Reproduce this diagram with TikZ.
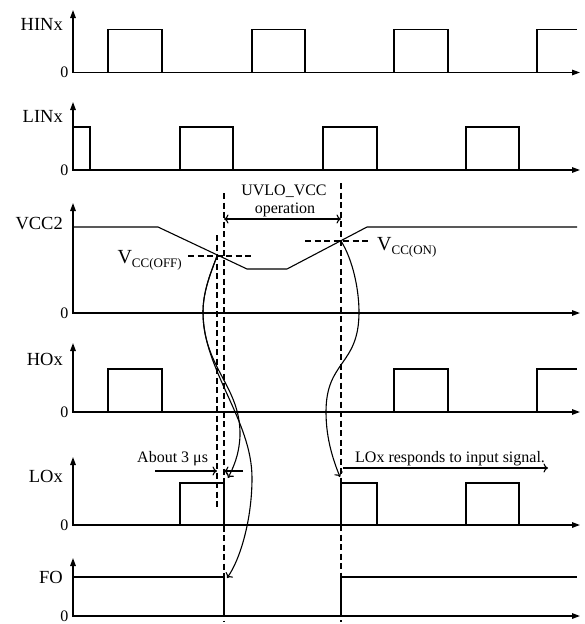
\documentclass[tikz,border=0pt]{standalone}
\usepackage{fontspec}
\setmainfont{Liberation Serif}
\usetikzlibrary{arrows.meta}
\begin{document}
\begin{tikzpicture}[x=1pt,y=-1pt,
  axis/.style={line width=1.4pt,{Triangle[length=8pt,width=5.5pt]}-{Triangle[length=8pt,width=5.5pt]}},
  wave/.style={line width=1.1pt},
  guide/.style={line width=1.1pt,dash pattern=on 6pt off 3.5pt},
  conn/.style={line width=1.1pt,-{To[length=4.5pt,width=9pt]}},
  span/.style={line width=1.1pt,{To[length=4.5pt,width=9pt]}-{To[length=4.5pt,width=9pt]}},
  sig/.style={font=\fontsize{18.5}{20}\selectfont,anchor=base east,inner sep=0pt},
  zero/.style={font=\fontsize{16}{18}\selectfont,anchor=east,inner sep=0pt},
  note/.style={font=\fontsize{16}{18}\selectfont,inner sep=0pt}]
\useasboundingbox (0,0) rectangle (584,624);

% ---------- HINx ----------
\draw[axis] (73,10) -- (73,72.5) -- (580,72.5);
\node[sig] (hin) at (63,30) {HINx};
\node[zero] (z1) at (68.5,72.5) {0};
\draw[wave] (108,72.5) |- (162,29.5) -- (162,72.5);
\draw[wave] (252,72.5) |- (305,29.5) -- (305,72.5);
\draw[wave] (394,72.5) |- (448,29.5) -- (448,72.5);
\draw[wave] (537,72.5) |- (577,29.5);

% ---------- LINx ----------
\draw[axis] (73,102) -- (73,170) -- (580,170);
\node[sig] (lin) at (63,122) {LINx};
\node[zero] (z2) at (68.5,170) {0};
\draw[wave] (73,127) -- (90,127) -- (90,170);
\draw[wave] (180,170) |- (233,127) -- (233,170);
\draw[wave] (323,170) |- (377,127) -- (377,170);
\draw[wave] (466,170) |- (519,127) -- (519,170);

% ---------- VCC2 ----------
\draw[axis] (73,203) -- (73,313) -- (580,313);
\node[sig] (vcc) at (63,229) {VCC2};
\node[zero] (z3) at (68.5,313) {0};
\draw[wave] (73,227) -- (158,227) -- (247,269) -- (287,269) -- (367,227) -- (577,227);

% ---------- HOx ----------
\draw[axis] (73,343) -- (73,412) -- (580,412);
\node[sig] (ho) at (63,365) {HOx};
\node[zero] (z4) at (68.5,412) {0};
\draw[wave] (108,412) |- (162,369) -- (162,412);
\draw[wave] (394,412) |- (448,369) -- (448,412);
\draw[wave] (537,412) |- (577,369);

% ---------- LOx ----------
\draw[axis] (73,457) -- (73,525) -- (580,525);
\node[sig] (lo) at (63,482) {LOx};
\node[zero] (z5) at (68.5,525) {0};
\draw[wave] (180,525) |- (224,483) -- (224,525);
\draw[wave] (341,525) |- (377,483) -- (377,525);
\draw[wave] (466,525) |- (519,483) -- (519,525);

% ---------- FO ----------
\draw[axis] (73,558) -- (73,616) -- (580,616);
\node[sig] (fo) at (63,583) {FO};
\node[zero] (z6) at (68.5,616) {0};
\draw[wave] (73,577) -- (224,577) -- (224,616);
\draw[wave] (341,616) -- (341,577) -- (577,577);

% ---------- guides ----------
\coordinate (offpt) at (217,256);
\coordinate (onpt) at (341,241);
\coordinate (gAt) at (217,235);
\coordinate (gAb) at (217,507);
\coordinate (gBt) at (224,193);
\coordinate (gBb) at (224,622);
\coordinate (gCt) at (341,183);
\coordinate (gCb) at (341,622);
\draw[guide] (gAt) -- (gAb);
\draw[guide] (gBt) -- (gBb);
\draw[guide] (gCt) -- (gCb);
\draw[guide] (188,256) -- (252,256);
\draw[guide] (305,241) -- (368,241);

\node[anchor=base east,inner sep=0pt] (voff) at (182,263)
  {\fontsize{20}{22}\selectfont V\raisebox{-4.5pt}{\fontsize{13}{14}\selectfont CC(OFF)}};
\node[anchor=base west,inner sep=0pt] (von) at (377,250)
  {\fontsize{20}{22}\selectfont V\raisebox{-4.5pt}{\fontsize{13}{14}\selectfont CC(ON)}};

% UVLO span
\node[note,anchor=base] (uvlo) at (284,195) {UVLO\_VCC};
\node[note,anchor=base] (oper) at (285,213) {operation};
\coordinate (spL) at (224,219);
\coordinate (spR) at (341,219);
\draw[span] (spL) -- (spR);

% About 3 us
\node[note,anchor=base west] (about) at (137,462) {About 3 μs};
\coordinate (a1s) at (155,471);
\coordinate (a1e) at (217,471);
\coordinate (a2s) at (243,471);
\coordinate (a2e) at (224,471);
\draw[conn] (a1s) -- (a1e);
\draw[conn] (a2s) -- (a2e);

% LOx responds
\node[note,anchor=base west] (resp) at (355,462) {LOx responds to input signal.};
\coordinate (r1s) at (343,468);
\coordinate (r1e) at (548,468);
\draw[conn] (r1s) -- (r1e);

% ---------- curves ----------
\coordinate (loFall) at (228,478);
\coordinate (foFall) at (227,578);
\coordinate (loRise) at (340,477);
\draw[conn] (offpt) .. controls (212,270) and (203,290) .. (203,312)
  .. controls (203,370) and (252,420) .. (252,478)
  .. controls (252,520) and (240,560) .. (foFall);
\draw[conn] (offpt) .. controls (212,270) and (203,290) .. (203,312)
  .. controls (203,368) and (241,386) .. (240,436)
  .. controls (239,456) and (233,468) .. (loFall);
\draw[conn] (onpt) .. controls (353,260) and (359,290) .. (359,312)
  .. controls (359,366) and (326,360) .. (326,412)
  .. controls (326,440) and (334,462) .. (loRise);
\end{tikzpicture}
\end{document}
